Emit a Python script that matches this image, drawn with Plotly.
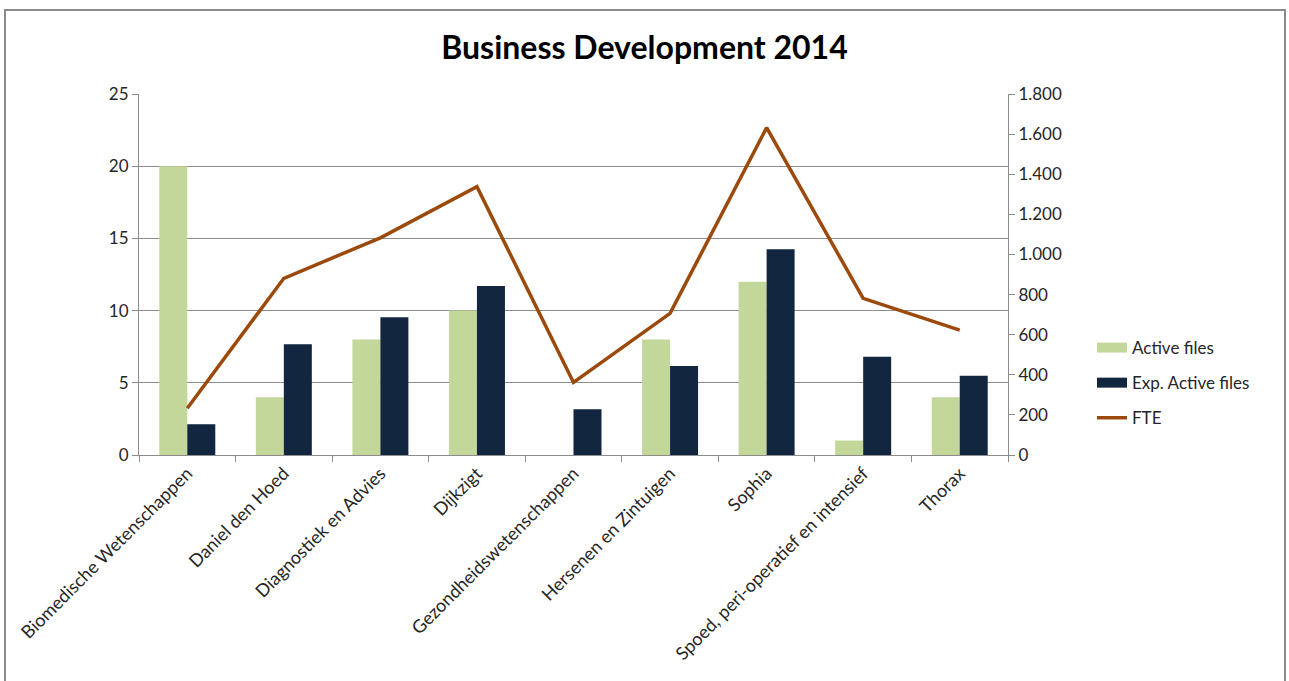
import plotly.graph_objects as go

# Business units
categories = [
    "Biomedische Wetenschappen",
    "Daniel den Hoed",
    "Diagnostiek en Advies",
    "Dijkzigt",
    "Gezondheidswetenschappen",
    "Hersenen en Zintuigen",
    "Sophia",
    "Spoed, peri-operatief en intensief",
    "Thorax",
]

# Series values
active_files = [20, 4, 8, 10, 0, 8, 12, 1, 4]
exp_active_files = [2.13, 7.67, 9.54, 11.7, 3.16, 6.16, 14.24, 6.81, 5.49]
fte = [233, 881, 1083, 1338, 362, 706, 1632, 781, 623]

FONT = "Lato"
GRID = "#8c8c8c"
TXT = "#262626"
GREEN = "#C4D79B"
NAVY = "#13263F"
BROWN = "#9C4A0C"

fig = go.Figure()
fig.add_trace(go.Bar(
    x=categories, y=active_files, name="Active files",
    marker=dict(color=GREEN, line=dict(width=0)),
    showlegend=False,
))
fig.add_trace(go.Bar(
    x=categories, y=exp_active_files, name="Exp. Active files",
    marker=dict(color=NAVY, line=dict(width=0)),
    showlegend=False,
))
fig.add_trace(go.Scatter(
    x=categories, y=fte, name="FTE", yaxis="y2", mode="lines",
    line=dict(color=BROWN, width=3.5),
    showlegend=False,
))

# Legend entries drawn as wide swatches (Excel style)
for name, color, width in [("Active files", GREEN, 11),
                           ("Exp. Active files", NAVY, 11),
                           ("FTE", BROWN, 3.5)]:
    fig.add_trace(go.Scatter(
        x=[None], y=[None], name=name, mode="lines",
        line=dict(color=color, width=width), legendgroup=name,
        showlegend=True,
    ))

W, H = 1289, 681
L, R, T, B = 139, 1008, 94, 455

def px(xp):
    return (xp - L) / (R - L)

def py(yp):
    return (B - yp) / (B - T)

fig.update_layout(
    width=W, height=H,
    margin=dict(l=L, r=W - R, t=T, b=H - B, pad=0),
    paper_bgcolor="white", plot_bgcolor="white",
    separators=",.",
    barmode="group", bargap=0.42, bargroupgap=0,
    font=dict(family=FONT, size=16, color=TXT),
    title=dict(
        text="<b>Business Development 2014</b>",
        x=0.5, xanchor="center", xref="container",
        y=1 - 48 / H, yanchor="middle", yref="container",
        font=dict(family=FONT, size=32, color="#000000"),
    ),
    xaxis=dict(
        type="category", tickson="boundaries", ticks="outside", ticklen=6,
        tickcolor=GRID, showline=True, linecolor=GRID, linewidth=1,
        showgrid=False, tickangle=-45, tickfont=dict(size=18, color=TXT),
    ),
    yaxis=dict(
        range=[0, 25], dtick=5, showgrid=True, gridcolor=GRID, gridwidth=1,
        showline=True, linecolor=GRID, ticks="outside", ticklen=6,
        tickcolor=GRID, zeroline=False, tickfont=dict(size=17, color=TXT),
    ),
    yaxis2=dict(
        range=[0, 1800], dtick=200, overlaying="y", side="right",
        showgrid=False, showline=True, linecolor=GRID, ticks="outside",
        ticklen=6, tickcolor=GRID, zeroline=False, tickformat=",d",
        tickfont=dict(size=17, color=TXT),
    ),
    legend=dict(
        x=px(1092), y=py(330), xanchor="left", yanchor="top",
        font=dict(size=17, color=TXT), tracegroupgap=10,
        bgcolor="rgba(0,0,0,0)",
    ),
    shapes=[dict(
        type="rect", xref="paper", yref="paper",
        x0=px(5), x1=px(1285), y0=py(700), y1=py(10),
        line=dict(color="#8a8a8a", width=2), fillcolor="rgba(0,0,0,0)",
        layer="below",
    )],
)

fig.write_html("out.html")
